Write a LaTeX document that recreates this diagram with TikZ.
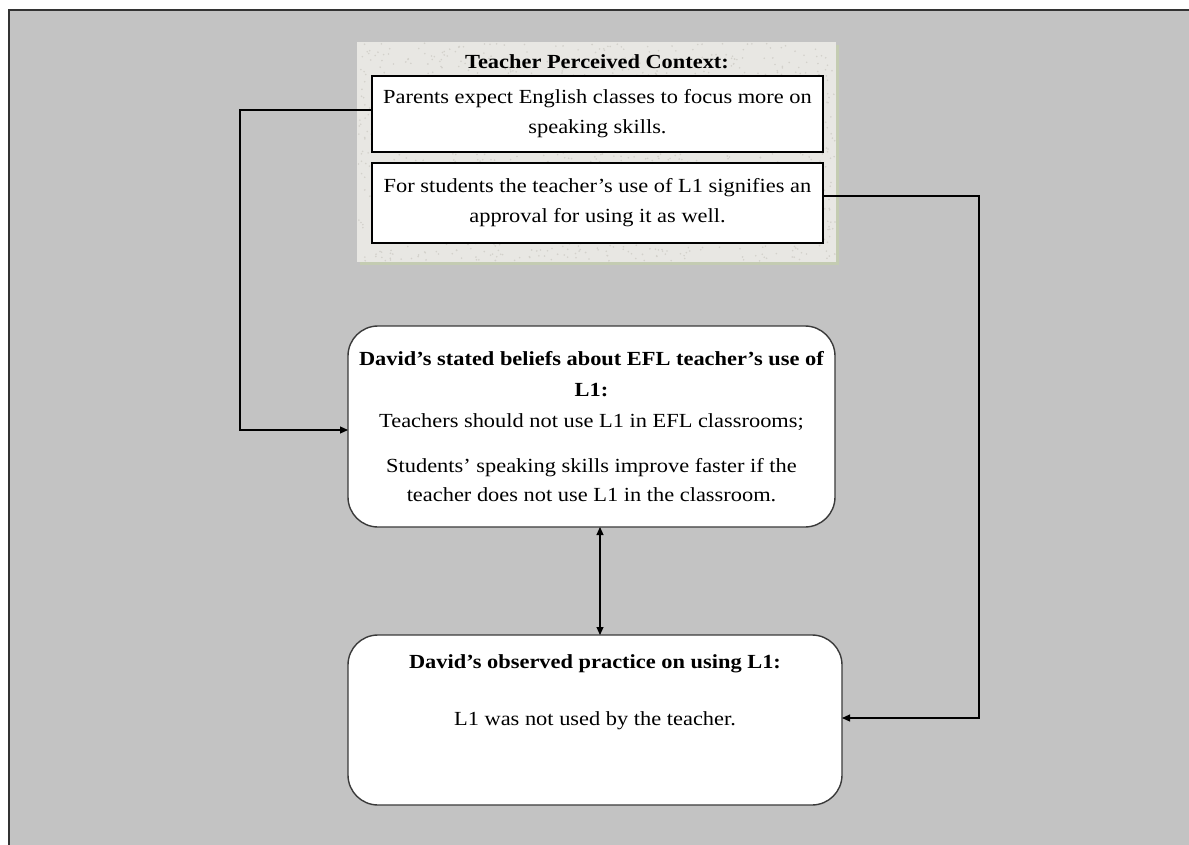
\documentclass[tikz,border=0pt]{standalone}
\usepackage{fontspec}
\setmainfont{Liberation Serif}[FakeStretch=1.12]
\usetikzlibrary{arrows.meta}

\definecolor{panel}{HTML}{C3C3C3}
\definecolor{paper}{HTML}{E8E7E3}
\definecolor{speck}{HTML}{D3D1CB}
\definecolor{paperedge}{HTML}{C4CCB2}
\definecolor{roundedge}{HTML}{3A3A3A}

\tikzset{
  x=1pt, y=-1pt,
  ctxbox/.style={draw=none, fill=paper, inner sep=0pt},
  factbox/.style={draw=black, line width=1.6pt, fill=white, inner sep=0pt,
    minimum width=451pt, align=center,
    font=\fontsize{20}{30}\selectfont},
  beliefbox/.style={draw=roundedge, line width=1.4pt, fill=white, inner sep=0pt,
    rounded corners=30pt, align=center,
    font=\fontsize{20}{31}\selectfont},
  link/.style={draw=black, line width=1.1pt,
    -{Triangle[length=8pt,width=7pt]}},
  both/.style={draw=black, line width=1.1pt,
    {Triangle[length=8pt,width=7pt]}-{Triangle[length=8pt,width=7pt]}},
}

\begin{document}
\begin{tikzpicture}
\useasboundingbox (0,0) rectangle (1189,845);
\fill[white] (0,0) rectangle (1189,845);
\fill[panel] (9,10) rectangle (1189,845);
\draw[line width=1.6pt, draw=black!80] (9,845) -- (9,10) -- (1189,10);

% perceived context panel with its shadowed edge and paper grain
\fill[paperedge] (360,45) rectangle (839,265);
\node[ctxbox, minimum width=479pt, minimum height=220pt] (ctx) at (596.5,152) {};
\pgfmathsetseed{42}
\foreach \i in {1,...,1400}{
  \pgfmathsetmacro{\sx}{358+477*rnd}
  \pgfmathsetmacro{\sy}{43+218*rnd}
  \fill[speck] (\sx,\sy) circle (0.9pt);
}
\node[font=\fontsize{20}{20}\selectfont\bfseries, inner sep=0pt] (ctxtitle) at (597,62)
  {Teacher Perceived Context:};

\node[factbox, minimum height=76pt] (parents) at (597.5,114)
  {Parents expect English classes to focus more on\\speaking skills.};
\node[factbox, minimum height=80pt] (students) at (597.5,203)
  {For students the teacher's use of L1 signifies an\\approval for using it as well.};

% beliefs and practice
\node[beliefbox, minimum width=487pt, minimum height=201pt] (beliefs) at (591.5,426.5)
  {\textbf{David's stated beliefs about EFL teacher's use of}\\
   \textbf{L1:}\\
   Teachers should not use L1 in EFL classrooms;\\[14pt]
   Students' speaking skills improve faster if the\\[-2pt]
   teacher does not use L1 in the classroom.};
\node[beliefbox, minimum width=494pt, minimum height=170pt] (practice) at (595,720)
  {\textbf{David's observed practice on using L1:}\\[26pt]
   L1 was not used by the teacher.\\[28pt]\mbox{}};

% bends of the connectors
\coordinate (lbend) at (240,110);
\coordinate (lend) at (348,430);
\coordinate (rstart) at (823,196);
\coordinate (rbend) at (979,196);
\coordinate (rend) at (842,718);
\coordinate (mtop) at (600,527);
\coordinate (mbot) at (600,635);

% connectors
\draw[link] (parents.west |- lbend) -- (lbend) |- (lend);
\draw[link] (rstart) -- (rbend) |- (rend);
\draw[both] (mtop) -- (mbot);
\end{tikzpicture}
\end{document}
